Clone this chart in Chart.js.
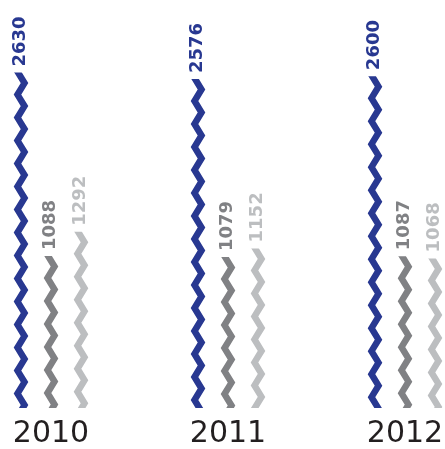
<!DOCTYPE html>
<html>
<head>
<meta charset="utf-8">
<script src="https://cdn.jsdelivr.net/npm/chart.js@4"></script>
<style>
  body { margin: 0; background: #fff; }
  #wrap { width: 445px; height: 449px; }
</style>
</head>
<body>
<div id="wrap"><canvas id="zigChart"></canvas></div>
<script>
const years = ['2010', '2011', '2012'];
const blueValues = [2630, 2576, 2600];
const darkGrayValues = [1088, 1079, 1087];
const lightGrayValues = [1292, 1152, 1068];

const colors = ['#283891', '#808184', '#bcbec0'];
const axisMin = -190;

// draws each bar as a zigzag stroke plus a rotated value label on top
const zigzagBars = {
    id: 'zigzagBars',
    afterDatasetsDraw(chart) {
        const ctx = chart.ctx;
        chart.data.datasets.forEach((ds, i) => {
            const meta = chart.getDatasetMeta(i);
            meta.data.forEach((bar, j) => {
                const cx = bar.x, top = bar.y, base = bar.base;
                const amp = 3.5, half = 11.5;

                ctx.save();
                ctx.beginPath();
                ctx.rect(cx - 20, top, 40, base - top);
                ctx.clip();
                ctx.beginPath();
                let y = top - 1 - half;
                let right = true;
                ctx.moveTo(cx + amp, y);
                while (y < base + half) {
                    y += half;
                    right = !right;
                    ctx.lineTo(right ? cx + amp : cx - amp, y);
                }
                ctx.lineWidth = 6.5;
                ctx.lineJoin = 'miter';
                ctx.lineCap = 'butt';
                ctx.strokeStyle = ds.borderColor;
                ctx.stroke();
                ctx.restore();

                ctx.save();
                ctx.translate(cx + 3.5, top - 6);
                ctx.rotate(-Math.PI / 2);
                ctx.font = 'bold 18px "DejaVu Sans"';
                ctx.fillStyle = ds.borderColor;
                ctx.textAlign = 'left';
                ctx.textBaseline = 'alphabetic';
                ctx.fillText(String(ds.data[j]), 0, 0);
                ctx.restore();
            });
        });
    }
};

function makeSet(label, values, color) {
    return {
        label: label,
        data: values,
        base: axisMin,
        backgroundColor: 'rgba(0,0,0,0)',
        borderColor: color,
        borderWidth: 0,
        barThickness: 30
    };
}

const ctx = document.getElementById('zigChart').getContext('2d');
new Chart(ctx, {
    type: 'bar',
    data: {
        labels: years,
        datasets: [
            makeSet('A', blueValues, colors[0]),
            makeSet('B', darkGrayValues, colors[1]),
            makeSet('C', lightGrayValues, colors[2])
        ]
    },
    options: {
        responsive: true,
        maintainAspectRatio: false,
        animation: false,
        layout: { padding: { left: 51, right: 40, top: 0, bottom: -12 } },
        plugins: { legend: { display: false }, tooltip: { enabled: false } },
        scales: {
            x: {
                offset: false,
                grid: { display: false, drawTicks: false },
                border: { display: false },
                ticks: {
                    color: '#231f20',
                    padding: 11,
                    maxRotation: 0,
                    font: { family: 'DejaVu Sans', size: 30, lineHeight: 1.03 }
                },
                afterFit(scale) {
                    scale.paddingLeft = 0;
                    scale.paddingRight = 0;
                }
            },
            y: {
                display: false,
                min: axisMin,
                max: 3240
            }
        }
    },
    plugins: [zigzagBars]
});
</script>
</body>
</html>
